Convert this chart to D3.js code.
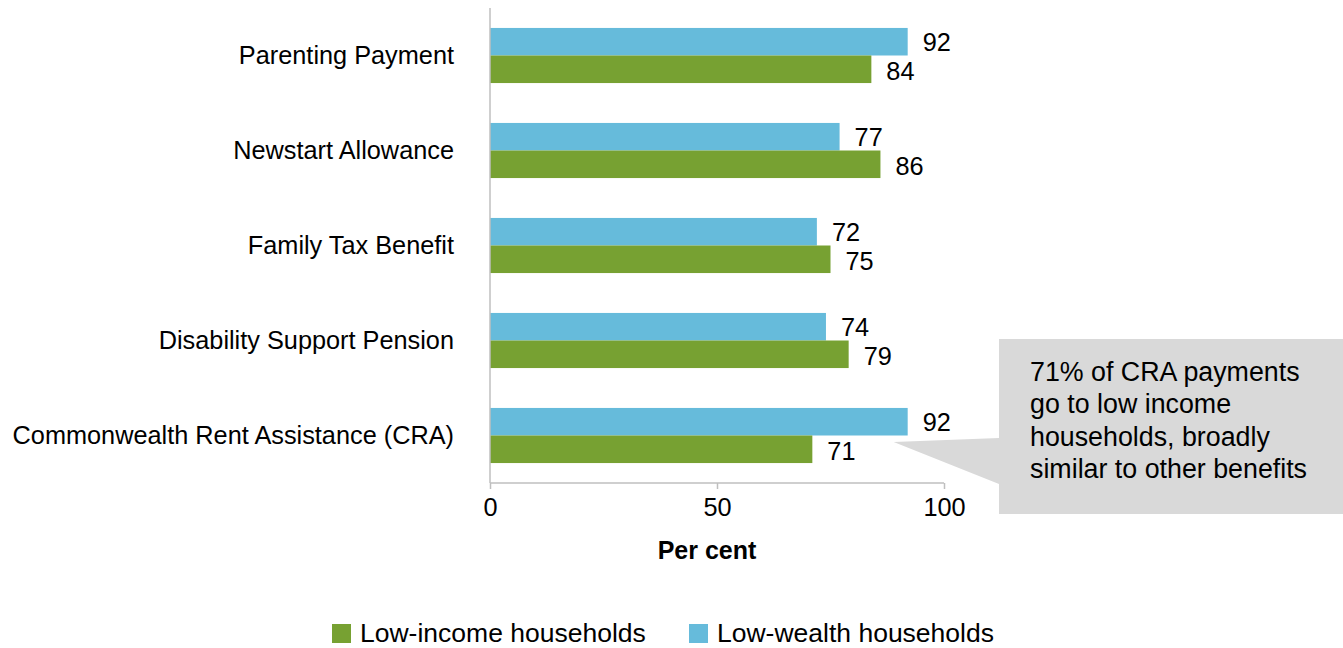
<!DOCTYPE html>
<html>
<head>
<meta charset="utf-8">
<script src="https://cdn.jsdelivr.net/npm/d3@7"></script>
<style>
  html, body { margin: 0; padding: 0; background: #fff; }
  svg { display: block; font-family: "Liberation Sans", Arial, sans-serif; }
</style>
</head>
<body>
<svg id="chart" width="1343" height="648"></svg>
<script>
// Share of each benefit's payments going to low-income / low-wealth households
const categories = [
  "Parenting Payment",
  "Newstart Allowance",
  "Family Tax Benefit",
  "Disability Support Pension",
  "Commonwealth Rent Assistance (CRA)"
];
const lowWealth = [92, 77, 72, 74, 92];
const lowIncome = [84, 86, 75, 79, 71];
const xTicks = [0, 50, 100];
const seriesNames = ["Low-income households", "Low-wealth households"];
const calloutLines = [
  "71% of CRA payments",
  "go to low income",
  "households, broadly",
  "similar to other benefits"
];

const colors = { income: "#77A132", wealth: "#66BBDB" };
const axisColor = "#BFBFBF";
const fs = 25.3;

const svg = d3.select("#chart");
const plotLeft = 490, plotRight = 944, plotTop = 8, plotBottom = 483;

const x = d3.scaleLinear().domain([0, 100]).range([plotLeft, plotRight]);
const y = d3.scaleBand().domain(categories).range([plotTop, plotBottom]).paddingInner(0.42).paddingOuter(0.21);
const sub = d3.scaleBand().domain(["wealth", "income"]).range([0, y.bandwidth()]);

// Bars with value labels
const rows = categories.map((c, i) => ({ cat: c, wealth: lowWealth[i], income: lowIncome[i] }));
const g = svg.append("g");
rows.forEach(r => {
  ["wealth", "income"].forEach(k => {
    g.append("rect")
      .attr("x", x(0))
      .attr("y", y(r.cat) + sub(k))
      .attr("width", x(r[k]) - x(0))
      .attr("height", sub.bandwidth())
      .attr("fill", colors[k]);
    g.append("text")
      .attr("x", x(r[k]) + 15)
      .attr("y", y(r.cat) + sub(k) + sub.bandwidth() / 2 + (k === "income" ? 2 : 0))
      .attr("dy", "0.35em")
      .attr("font-size", fs)
      .attr("fill", "#000")
      .text(r[k]);
  });
});

// Category axis line and labels
svg.append("line")
  .attr("x1", plotLeft).attr("x2", plotLeft).attr("y1", plotTop).attr("y2", plotBottom)
  .attr("stroke", axisColor).attr("stroke-width", 1.5);
svg.append("g").selectAll("text").data(categories).join("text")
  .attr("x", 454)
  .attr("y", d => y(d) + y.bandwidth() / 2)
  .attr("dy", "0.35em")
  .attr("text-anchor", "end")
  .attr("font-size", fs)
  .text(d => d);

// Value axis
const xAxis = d3.axisBottom(x).tickValues(xTicks).tickSize(6).tickPadding(9);
const ax = svg.append("g").attr("transform", `translate(0,${plotBottom})`).call(xAxis);
ax.select(".domain").attr("stroke", axisColor).attr("stroke-width", 1.5).attr("d", `M${plotLeft},0H${plotRight}`);
ax.selectAll(".tick line").attr("stroke", axisColor).attr("stroke-width", 1.5);
ax.selectAll(".tick text").attr("font-size", fs).attr("fill", "#000")
  .attr("font-family", "Liberation Sans, Arial, sans-serif");

svg.append("text")
  .attr("x", 707).attr("y", 559)
  .attr("text-anchor", "middle")
  .attr("font-size", 25).attr("font-weight", "bold")
  .text("Per cent");

// Callout box with pointer towards the CRA bars
const bx = 999, by = 339, bw = 360, bh = 175;
const tip = [x(92) - 14, 442];
svg.append("path")
  .attr("d", `M${bx},${by}H${bx + bw}V${by + bh}H${bx}V484L${tip[0]},${tip[1]}L${bx},438Z`)
  .attr("fill", "#D9D9D9");
svg.append("g").selectAll("text").data(calloutLines).join("text")
  .attr("x", 1030)
  .attr("y", (d, i) => 381 + i * 32.3)
  .attr("font-size", 26.8)
  .text(d => d);

// Legend
const legend = svg.append("g");
const legendItems = [
  { name: seriesNames[0], color: colors.income, x: 332 },
  { name: seriesNames[1], color: colors.wealth, x: 689 }
];
legendItems.forEach(it => {
  legend.append("rect").attr("x", it.x).attr("y", 624).attr("width", 19).attr("height", 19).attr("fill", it.color);
  legend.append("text").attr("x", it.x + 28).attr("y", 642).attr("font-size", 26.5).text(it.name);
});
</script>
</body>
</html>
